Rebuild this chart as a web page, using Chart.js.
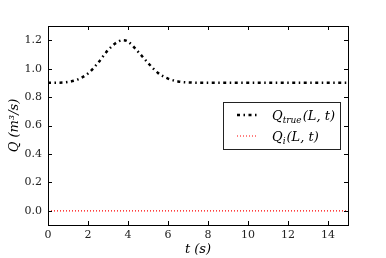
<!DOCTYPE html>
<html>
<head>
<meta charset="utf-8">
<script src="https://cdn.jsdelivr.net/npm/chart.js@4/dist/chart.umd.min.js"></script>
<style>
  html, body { margin: 0; padding: 0; background: #fff; }
  #grafico { display: block; }
</style>
</head>
<body>
<canvas id="grafico" width="386" height="258"></canvas>
<script>
// Valores
const tempos = [0, 0.5, 1, 1.5, 2, 2.5, 3, 3.5, 3.75, 4, 4.5, 5, 5.5, 6, 6.5, 7, 8, 9, 10, 11, 12, 13, 14, 15];
const qTrue  = [0.900, 0.901, 0.906, 0.925, 0.966, 1.040, 1.130, 1.190, 1.200, 1.190, 1.120, 1.040, 0.970, 0.930, 0.910, 0.903, 0.900, 0.900, 0.900, 0.900, 0.900, 0.900, 0.900, 0.900];
const qI     = [0, 0, 0, 0, 0, 0, 0, 0, 0, 0, 0, 0, 0, 0, 0, 0, 0, 0, 0, 0, 0, 0, 0, 0];
const ticksX = [0, 2, 4, 6, 8, 10, 12, 14];
const ticksY = [0.0, 0.2, 0.4, 0.6, 0.8, 1.0, 1.2];

const FONTE = '"DejaVu Serif", "Liberation Serif", serif';

// Pares {x, y} para a escala linear
function pontos(ys) {
    return tempos.map((t, i) => ({ x: t, y: ys[i] }));
}

// Desenha os ticks para dentro nos quatro lados e a moldura
const ticksInternos = {
    id: 'ticksInternos',
    afterDatasetsDraw(chart) {
        const { ctx, chartArea: a, scales } = chart;
        ctx.save();
        ctx.strokeStyle = '#000';
        ctx.lineWidth = 1;
        ticksX.forEach(v => {
            const px = Math.round(scales.x.getPixelForValue(v)) + 0.5;
            ctx.beginPath();
            ctx.moveTo(px, a.bottom); ctx.lineTo(px, a.bottom - 4);
            ctx.moveTo(px, a.top); ctx.lineTo(px, a.top + 4);
            ctx.stroke();
        });
        ticksY.forEach(v => {
            const py = Math.round(scales.y.getPixelForValue(v)) + 0.5;
            ctx.beginPath();
            ctx.moveTo(a.left, py); ctx.lineTo(a.left + 4, py);
            ctx.moveTo(a.right, py); ctx.lineTo(a.right - 4, py);
            ctx.stroke();
        });
        ctx.strokeRect(Math.round(a.left) + 0.5, Math.round(a.top) + 0.5,
            Math.round(a.right - a.left), Math.round(a.bottom - a.top));
        ctx.restore();
    }
};

// Legenda dentro da área do gráfico, com subscrito
const legendaInterna = {
    id: 'legendaInterna',
    afterDraw(chart) {
        const { ctx } = chart;
        const x0 = 223, y0 = 102, w = 117, h = 47;
        ctx.save();
        ctx.fillStyle = '#fff';
        ctx.fillRect(x0, y0, w, h);
        ctx.strokeStyle = '#222';
        ctx.lineWidth = 1;
        ctx.strokeRect(x0 + 0.5, y0 + 0.5, w, h);

        const ds = chart.data.datasets;
        const linhas = [y0 + 13, y0 + 34];
        ds.forEach((d, i) => {
            ctx.beginPath();
            ctx.strokeStyle = d.borderColor;
            ctx.lineWidth = d.borderWidth;
            ctx.setLineDash(d.borderDash);
            ctx.moveTo(x0 + 14, linhas[i]);
            ctx.lineTo(x0 + 35, linhas[i]);
            ctx.stroke();
        });
        ctx.setLineDash([]);
        ctx.fillStyle = '#000';
        ctx.textBaseline = 'alphabetic';

        const rotulos = [['true', '(L, t)'], ['i', '(L, t)']];
        rotulos.forEach((r, i) => {
            let x = x0 + 49;
            const y = linhas[i] + 5;
            ctx.font = 'italic 13px ' + FONTE;
            ctx.fillText('Q', x, y);
            x += ctx.measureText('Q').width;
            ctx.font = 'italic 9px ' + FONTE;
            ctx.fillText(r[0], x, y + 3);
            x += ctx.measureText(r[0]).width + 1;
            ctx.font = 'italic 13px ' + FONTE;
            ctx.fillText(r[1], x, y);
        });
        ctx.restore();
    }
};

new Chart(document.getElementById('grafico'), {
    type: 'line',
    data: {
        datasets: [
            {
                label: 'Q_true(L,t)',
                data: pontos(qTrue),
                borderColor: '#000',
                borderWidth: 2.5,
                borderDash: [3, 3.5, 1.5, 3.5],
                borderCapStyle: 'butt',
                pointRadius: 0,
                cubicInterpolationMode: 'monotone',
                fill: false
            },
            {
                label: 'Q_i(L,t)',
                data: pontos(qI),
                borderColor: '#ff0000',
                borderWidth: 1.2,
                borderDash: [1, 2],
                pointRadius: 0,
                fill: false
            }
        ]
    },
    options: {
        responsive: false,
        animation: false,
        layout: { padding: { top: 26, right: 38, left: 0, bottom: 0 } },
        plugins: {
            legend: { display: false },
            tooltip: { enabled: false }
        },
        scales: {
            x: {
                type: 'linear',
                min: 0,
                max: 15,
                afterBuildTicks: s => { s.ticks = ticksX.map(v => ({ value: v })); },
                afterFit: s => { s.height = 33; },
                grid: { display: false, drawTicks: false, tickLength: 0 },
                border: { display: false },
                ticks: {
                    color: '#222',
                    padding: 4,
                    maxRotation: 0,
                    font: { family: FONTE, size: 11 }
                },
                title: {
                    display: true,
                    text: 't (s)',
                    color: '#000',
                    padding: { top: 0, bottom: 1 },
                    font: { family: FONTE, size: 13, style: 'italic' }
                }
            },
            y: {
                min: -0.1,
                max: 1.3,
                afterBuildTicks: s => { s.ticks = ticksY.map(v => ({ value: v })); },
                afterFit: s => { s.width = 48; },
                grid: { display: false, drawTicks: false, tickLength: 0 },
                border: { display: false },
                ticks: {
                    color: '#222',
                    padding: 6,
                    font: { family: FONTE, size: 11 },
                    callback: v => v.toFixed(1)
                },
                title: {
                    display: true,
                    text: 'Q (m³/s)',
                    color: '#000',
                    padding: { top: 7, bottom: 0 },
                    font: { family: FONTE, size: 13, style: 'italic' }
                }
            }
        }
    },
    plugins: [ticksInternos, legendaInterna]
});
</script>
</body>
</html>
